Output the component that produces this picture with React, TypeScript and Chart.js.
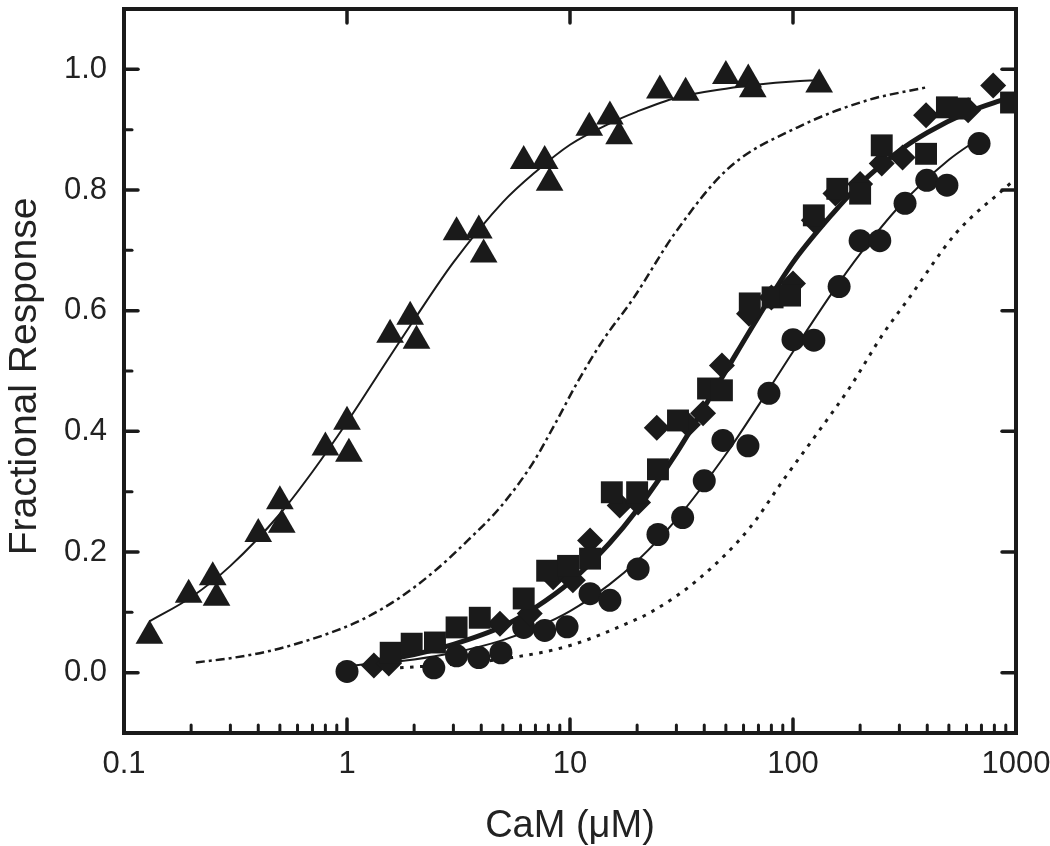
import React, { useEffect, useRef } from "react";
import { Chart, registerables } from "chart.js";

Chart.register(...registerables);

// ---- axis ticks ----
const xTickValues = [0.1, 1, 10, 100, 1000];
const xTickLabels = ["0.1", "1", "10", "100", "1000"];
const xMinorMultipliers = [2, 3, 4, 5, 6, 7, 8, 9];
const xDecades = [0.1, 1, 10, 100];
const yTickValues = [0, 0.2, 0.4, 0.6, 0.8, 1.0];
const yTickLabels = ["0.0", "0.2", "0.4", "0.6", "0.8", "1.0"];
const yMinorValues = [0.1, 0.3, 0.5, 0.7, 0.9];

// ---- data: triangles ----
const triX = [0.13, 0.195, 0.25, 0.26, 0.4, 0.5, 0.51, 0.8, 1.0, 1.02, 1.56, 1.92, 2.05, 3.1, 3.9, 4.1, 6.2, 7.7, 8.1, 12.2, 15.1, 16.6, 25.3, 33, 50, 63, 66, 131];
const triY = [0.061, 0.129, 0.158, 0.124, 0.23, 0.284, 0.245, 0.373, 0.416, 0.363, 0.56, 0.59, 0.55, 0.73, 0.733, 0.693, 0.848, 0.848, 0.812, 0.903, 0.922, 0.889, 0.965, 0.961, 0.989, 0.983, 0.967, 0.975];

// ---- data: circles ----
const circX = [1.0, 2.45, 3.1, 3.9, 4.9, 6.2, 7.7, 9.7, 12.3, 15.1, 20.2, 24.8, 32, 40, 48.5, 62.8, 78, 100, 124, 161, 200, 245, 318, 398, 490, 683];
const circY = [0.002, 0.008, 0.028, 0.025, 0.033, 0.075, 0.07, 0.076, 0.131, 0.12, 0.172, 0.229, 0.257, 0.318, 0.385, 0.376, 0.463, 0.552, 0.551, 0.64, 0.716, 0.716, 0.778, 0.816, 0.808, 0.877];

// ---- data: squares ----
const sqX = [1.57, 1.95, 2.48, 3.1, 3.94, 6.2, 7.9, 9.8, 12.3, 15.4, 20, 24.8, 30.5, 41.6, 48, 64, 81, 97, 124, 158, 200, 250, 395, 490, 560, 950];
const sqY = [0.033, 0.048, 0.05, 0.075, 0.091, 0.123, 0.169, 0.177, 0.189, 0.299, 0.299, 0.337, 0.418, 0.471, 0.468, 0.612, 0.622, 0.625, 0.758, 0.802, 0.794, 0.874, 0.86, 0.937, 0.935, 0.945];

// ---- data: diamonds ----
const diaX = [1.32, 1.54, 4.85, 6.6, 8.4, 10.3, 12.3, 16.7, 20.2, 24.5, 33.8, 39.5, 48, 63.5, 80, 100, 124, 155, 200, 250, 310, 395, 610, 790];
const diaY = [0.012, 0.015, 0.081, 0.098, 0.158, 0.153, 0.219, 0.277, 0.282, 0.406, 0.411, 0.43, 0.509, 0.595, 0.622, 0.645, 0.75, 0.794, 0.81, 0.844, 0.854, 0.924, 0.932, 0.973];

// ---- fitted curves ----
const triFitX = [0.13, 0.2, 0.3, 0.5, 0.7, 1, 1.5, 2, 3, 5, 7, 10, 15, 20, 30, 50, 70, 100, 130];
const triFitY = [0.085, 0.125, 0.177, 0.263, 0.333, 0.415, 0.515, 0.585, 0.68, 0.78, 0.83, 0.875, 0.91, 0.93, 0.953, 0.968, 0.975, 0.98, 0.982];

const thickFitX = [1.3, 2, 3, 5, 7, 10, 15, 20, 30, 40, 50, 70, 100, 150, 200, 300, 400, 600, 800, 1000];
const thickFitY = [0.019, 0.03, 0.047, 0.077, 0.108, 0.15, 0.214, 0.27, 0.364, 0.44, 0.5, 0.59, 0.68, 0.76, 0.81, 0.865, 0.895, 0.928, 0.945, 0.955];

const circFitX = [1, 2, 3, 5, 7, 10, 15, 20, 30, 50, 70, 100, 150, 200, 300, 500, 700];
const circFitY = [0.011, 0.022, 0.033, 0.054, 0.074, 0.102, 0.146, 0.185, 0.254, 0.362, 0.443, 0.532, 0.63, 0.694, 0.773, 0.85, 0.888];

const dashDotX = [0.21, 0.3, 0.45, 0.62, 0.9, 1.2, 1.72, 2.5, 3.5, 4.86, 6.8, 8.5, 10.9, 14, 19.2, 29.5, 51, 105, 217, 395];
const dashDotY = [0.017, 0.024, 0.036, 0.05, 0.07, 0.09, 0.124, 0.17, 0.22, 0.274, 0.347, 0.41, 0.484, 0.55, 0.62, 0.728, 0.835, 0.904, 0.949, 0.97];

const dottedX = [1.73, 3, 5.5, 10, 19.2, 23, 38, 64, 90, 128, 180, 254, 330, 537, 955, 1000];
const dottedY = [0.008, 0.014, 0.025, 0.045, 0.086, 0.1, 0.156, 0.24, 0.318, 0.396, 0.473, 0.562, 0.62, 0.728, 0.813, 0.82];

const INK = "#1a1a1a";
const FONT = "'Liberation Sans', Arial, Helvetica, sans-serif";

const zip = (xs: number[], ys: number[]) => xs.map((x, i) => ({ x, y: ys[i] }));

const framePlugin = {
  id: "frame",
  afterDatasetsDraw(chart: any) {
    const { ctx, chartArea: a, scales } = chart;
    const xs = scales.x;
    const ys = scales.y;
    const major = 14;
    const minor = 8;
    ctx.save();
    ctx.strokeStyle = INK;
    ctx.lineCap = "round";
    const seg = (x1: number, y1: number, x2: number, y2: number) => {
      ctx.beginPath();
      ctx.moveTo(x1, y1);
      ctx.lineTo(x2, y2);
      ctx.stroke();
    };
    // x minor (bottom)
    ctx.lineWidth = 3;
    xDecades.forEach((d) => {
      xMinorMultipliers.forEach((m) => {
        const px = xs.getPixelForValue(d * m);
        seg(px, a.bottom, px, a.bottom - minor);
      });
    });
    // y minor (left)
    yMinorValues.forEach((v) => {
      const py = ys.getPixelForValue(v);
      seg(a.left, py, a.left + minor, py);
    });
    // majors
    ctx.lineWidth = 3.5;
    xTickValues.forEach((v) => {
      const px = xs.getPixelForValue(v);
      if (px <= a.left + 1 || px >= a.right - 1) return;
      seg(px, a.bottom, px, a.bottom - major);
      seg(px, a.top, px, a.top + major);
    });
    yTickValues.forEach((v) => {
      const py = ys.getPixelForValue(v);
      seg(a.left, py, a.left + major, py);
      seg(a.right, py, a.right - major, py);
    });
    // spine
    ctx.lineWidth = 4;
    ctx.lineCap = "square";
    ctx.strokeRect(a.left, a.top, a.right - a.left, a.bottom - a.top);
    ctx.restore();
  },
};

export default function App() {
  const ref = useRef<HTMLCanvasElement | null>(null);

  useEffect(() => {
    if (!ref.current) return;
    const markerBase = {
      showLine: false,
      backgroundColor: INK,
      borderColor: INK,
      pointBackgroundColor: INK,
      pointBorderColor: INK,
      pointBorderWidth: 0,
      order: 1,
    };
    const lineBase = {
      showLine: true,
      pointRadius: 0,
      borderColor: INK,
      backgroundColor: INK,
      fill: false,
      cubicInterpolationMode: "monotone",
      order: 2,
    };
    const chart = new Chart(ref.current, {
      type: "scatter",
      data: {
        datasets: [
          { ...markerBase, label: "triangles", data: zip(triX, triY), pointStyle: "triangle", pointRadius: 16 },
          { ...markerBase, label: "squares", data: zip(sqX, sqY), pointStyle: "rect", pointRadius: 15.5 },
          { ...markerBase, label: "diamonds", data: zip(diaX, diaY), pointStyle: "rectRot", pointRadius: 13 },
          { ...markerBase, label: "circles", data: zip(circX, circY), pointStyle: "circle", pointRadius: 11.5 },
          { ...lineBase, label: "fit triangles", data: zip(triFitX, triFitY), borderWidth: 2 },
          { ...lineBase, label: "fit squares/diamonds", data: zip(thickFitX, thickFitY), borderWidth: 5 },
          { ...lineBase, label: "fit circles", data: zip(circFitX, circFitY), borderWidth: 2 },
          { ...lineBase, label: "dash-dot", data: zip(dashDotX, dashDotY), borderWidth: 2.5, borderDash: [9, 4, 3, 4] },
          { ...lineBase, label: "dotted", data: zip(dottedX, dottedY), borderWidth: 3, borderDash: [3.5, 6.5] },
        ] as any,
      },
      options: {
        responsive: false,
        animation: false,
        events: [],
        layout: { autoPadding: false, padding: { left: 0, right: 34, top: 9, bottom: 0 } },
        plugins: { legend: { display: false }, tooltip: { enabled: false } },
        scales: {
          x: {
            type: "logarithmic",
            position: "bottom",
            min: 0.1,
            max: 1000,
            grid: { display: false, drawTicks: false },
            border: { display: false },
            ticks: {
              font: { family: FONT, size: 31 },
              color: "#222",
              padding: 13,
              autoSkip: false,
              maxRotation: 0,
              minRotation: 0,
              callback: (_v: any, i: number) => xTickLabels[i],
            },
            afterBuildTicks: (s: any) => {
              s.ticks = xTickValues.map((v) => ({ value: v }));
            },
            afterFit: (s: any) => {
              s.height = 113;
              s.paddingLeft = 0;
              s.paddingRight = 0;
            },
            title: {
              display: true,
              text: "CaM (μM)",
              font: { family: FONT, size: 38, lineHeight: 1 },
              color: "#222",
              padding: 0,
            },
          },
          y: {
            type: "linear",
            position: "left",
            min: -0.1,
            max: 1.1,
            grid: { display: false, drawTicks: false },
            border: { display: false },
            ticks: {
              font: { family: FONT, size: 31, lineHeight: 0.4 },
              color: "#222",
              padding: 17,
              autoSkip: false,
              callback: (_v: any, i: number) => yTickLabels[i],
            },
            afterBuildTicks: (s: any) => {
              s.ticks = yTickValues.map((v) => ({ value: v }));
            },
            afterFit: (s: any) => {
              s.width = 124;
              s.paddingTop = 0;
              s.paddingBottom = 0;
            },
            title: {
              display: true,
              text: "Fractional Response ",
              font: { family: FONT, size: 39, lineHeight: 1.2 },
              color: "#222",
              padding: { top: 2, bottom: 0 },
            },
          },
        },
      } as any,
      plugins: [framePlugin],
    });
    return () => chart.destroy();
  }, []);

  return (
    <div style={{ position: "absolute", left: 0, top: 0, width: 1050, height: 846, background: "#fff" }}>
      <canvas ref={ref} width={1050} height={846} style={{ display: "block", width: 1050, height: 846 }} />
    </div>
  );
}
